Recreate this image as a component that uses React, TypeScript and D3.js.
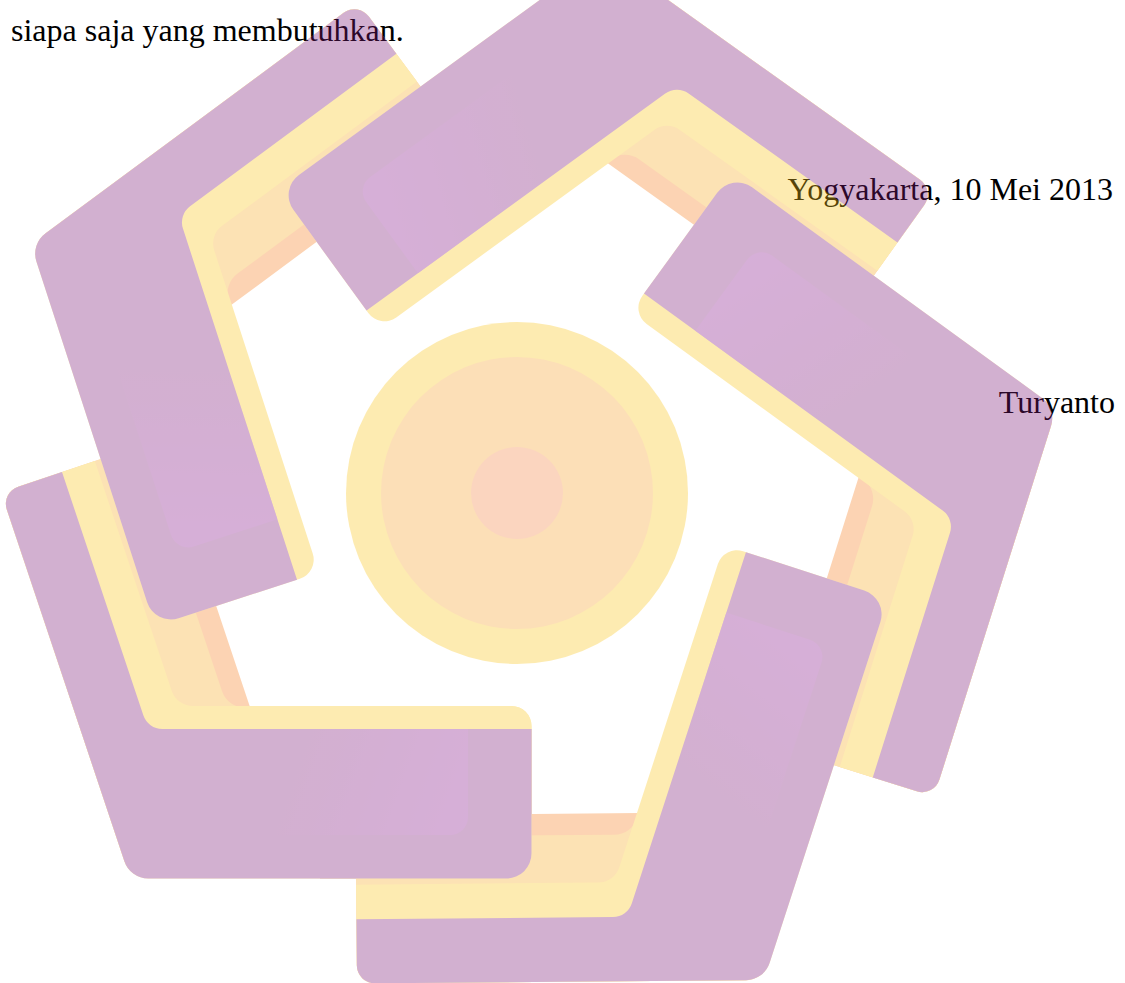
import React, { useEffect, useRef } from 'react'
import * as d3 from 'd3'

const W = 1125
const H = 983
const centre = [517, 493]

// page text: [label, x, baseline, anchor]
const lines: [string, number, number, string][] = [
  ['siapa saja yang membutuhkan.', 11, 41, 'start'],
  ['Yogyakarta, 10 Mei 2013', 1113, 200, 'end'],
  ['Turyanto', 1115, 413, 'end'],
]

// one bracket of the watermark (the lower-left one), points as [x, y, corner radius]
const purpleL = [[1.1, 492.4, 18], [62, 472, 0], [147.9, 729, 20], [531.5, 729, 0], [531.5, 878.5, 25], [130.2, 878.5, 25]]
const yellowL = [[1.1, 492.4, 18], [94.8, 461, 0], [176.8, 706, 22], [531.5, 706, 20], [531.5, 878.5, 25], [130.2, 878.5, 25]]
const orangeL = [[1.1, 492.4, 18], [140.1, 445.9, 0], [227.7, 708, 25], [480, 708, 0], [480, 860, 0], [130.2, 878.5, 25]]
const peachL = [[1.1, 492.4, 18], [160.4, 439.1, 0], [251, 710, 3], [470, 710, 0], [470, 860, 0], [130.2, 878.5, 25]]
const sheen = [[250, 729, 0], [468, 729, 0], [468, 835, 18], [250, 835, 0]]
const frontClip = [[320, 690, 0], [560, 690, 0], [560, 900, 0], [320, 900, 0]]

// rotation of each copy around the centre, in drawing order
const turns = [0, 72, 144, 216, 288]

// centre disc: radius and colour
const discR = [171, 136, 46]
const discC = ['#fcc71d', '#f9a42e', '#f68646']

const layerColours = ['#f98122', '#f9ac25', '#fcc71d', '#7e1a78']
const sheenColour = '#8c1792'
const alpha = 0.34

function rounded(pts: number[][]) {
  const p = d3.path()
  const n = pts.length
  const a = pts[n - 1], b = pts[0]
  p.moveTo((a[0] + b[0]) / 2, (a[1] + b[1]) / 2)
  for (let i = 0; i < n; i++) {
    const c = pts[i], d = pts[(i + 1) % n]
    p.arcTo(c[0], c[1], d[0], d[1], c[2])
  }
  p.closePath()
  return p.toString()
}

export default function App() {
  const ref = useRef<SVGSVGElement>(null)

  useEffect(() => {
    const svg = d3.select(ref.current)
    svg.selectAll('*').remove()

    const defs = svg.append('defs')
    const grad = defs.append('linearGradient')
      .attr('id', 'sheen')
      .attr('gradientUnits', 'userSpaceOnUse')
      .attr('x1', 300).attr('y1', 760).attr('x2', 468).attr('y2', 820)
    grad.append('stop').attr('offset', 0).attr('stop-color', sheenColour).attr('stop-opacity', 0)
    grad.append('stop').attr('offset', 1).attr('stop-color', sheenColour).attr('stop-opacity', 0.85)
    defs.append('clipPath').attr('id', 'front')
      .append('path').attr('d', rounded(frontClip))

    svg.selectAll('text.line')
      .data(lines)
      .enter()
      .append('text')
      .attr('class', 'line')
      .attr('x', d => d[1])
      .attr('y', d => d[2])
      .attr('text-anchor', d => d[3])
      .style('font-family', '"Liberation Serif", "Times New Roman", serif')
      .style('font-size', '32px')
      .style('fill', '#000')
      .text(d => d[0])

    const logo = svg.append('g').attr('opacity', alpha)

    logo.selectAll('circle')
      .data(discR)
      .enter()
      .append('circle')
      .attr('cx', centre[0])
      .attr('cy', centre[1])
      .attr('r', d => d)
      .style('fill', (d, i) => discC[i])

    const shapes = [peachL, orangeL, yellowL, purpleL]

    function bracket(g: any) {
      shapes.forEach((s, i) => {
        g.append('path').attr('d', rounded(s)).style('fill', layerColours[i])
      })
      g.append('path').attr('d', rounded(sheen)).style('fill', 'url(#sheen)')
    }

    turns.forEach(t => {
      const g = logo.append('g')
        .attr('transform', `rotate(${t} ${centre[0]} ${centre[1]})`)
      bracket(g)
    })

    // the first bracket's front arm lies over the last bracket's tail
    const top = logo.append('g').attr('clip-path', 'url(#front)')
    bracket(top)
  }, [])

  return <svg ref={ref} width={W} height={H}
    style={{ position: 'absolute', left: 0, top: 0, background: '#fff' }} />
}
